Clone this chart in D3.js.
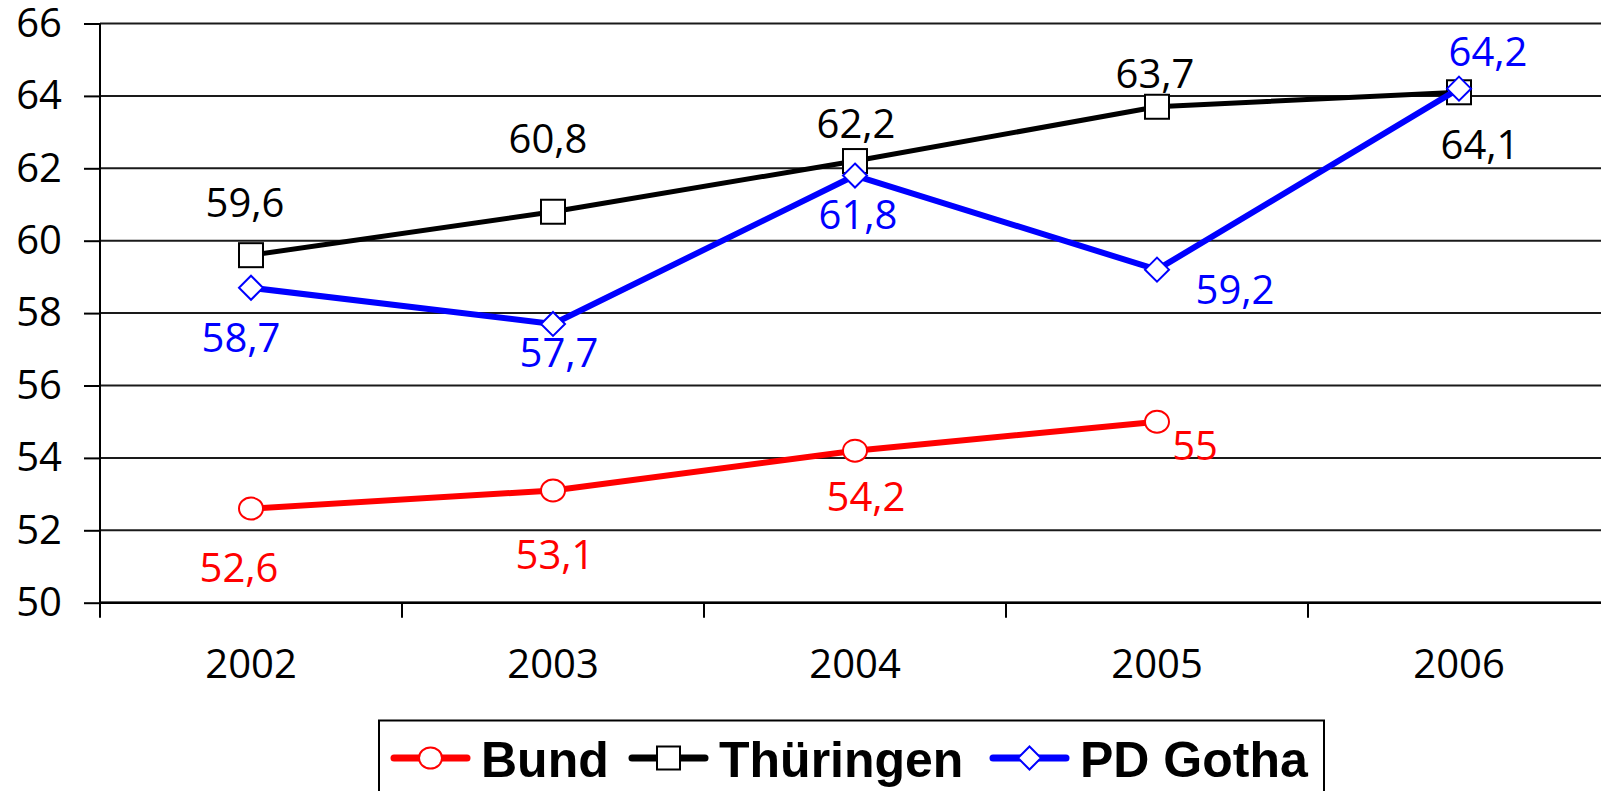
<!DOCTYPE html>
<meta charset="utf-8">
<title>Bund / Thüringen / PD Gotha</title>
<head>
    <script src="https://d3js.org/d3.v7.min.js"></script>
</head>
<body style="margin: 0px; background: #fff">
<script>

    var years = ["2002", "2003", "2004", "2005", "2006"];
    var yTicks = [50, 52, 54, 56, 58, 60, 62, 64, 66];
    var bund = [52.6, 53.1, 54.2, 55.0, null];
    var thueringen = [59.6, 60.8, 62.2, 63.7, 64.1];
    var pdGotha = [58.7, 57.7, 61.8, 59.2, 64.2];
    var seriesNames = ["Bund", "Thüringen", "PD Gotha"];

    // label offsets (px) from each point, as placed in the original
    var bundLabelOff = [[-12, 58], [2, 63], [11, 45], [38, 23]];
    var thuerLabelOff = [[-6, -54], [-5, -74], [1, -39], [-2, -34], [21, 51]];
    var gothaLabelOff = [[-10, 49], [6, 28], [3, 38], [78, 19], [29, -38]];

    var width = 1601, height = 791;
    var plotLeft = 100, plotTop = 23.5, plotBottom = 602.7, band = 302;

    var series = [
        {name: seriesNames[0], values: bund, color: "#ff0000", lw: 6, marker: "circle", off: bundLabelOff},
        {name: seriesNames[1], values: thueringen, color: "#000000", lw: 5, marker: "square", off: thuerLabelOff},
        {name: seriesNames[2], values: pdGotha, color: "#0000ff", lw: 6, marker: "diamond", off: gothaLabelOff}
    ];

    var svg = d3.select("body").append("svg")
            .attr("width", width)
            .attr("height", height)
            .style("display", "block");

    var x = d3.scaleBand().domain(years).range([plotLeft, plotLeft + band * years.length]);
    var y = d3.scaleLinear().domain([50, 66]).range([plotBottom, plotTop]);

    var numFont = "'Open Sans', sans-serif";
    var fmt = function (v) { return String(v).replace(".", ","); };

    // grid lines
    svg.append("g").selectAll("line").data(yTicks).enter().append("line")
            .attr("x1", plotLeft).attr("x2", width)
            .attr("y1", function (d) { return y(d); })
            .attr("y2", function (d) { return y(d); })
            .attr("stroke", "#1a1a1a").attr("stroke-width", 2);

    // y axis
    var yAxis = svg.append("g").attr("transform", "translate(" + plotLeft + ",0)")
            .call(d3.axisLeft(y).tickValues(yTicks).tickSize(16).tickPadding(22).tickFormat(d3.format("d")));
    yAxis.select(".domain").remove();
    yAxis.selectAll(".tick line").attr("stroke", "#000").attr("stroke-width", 2);
    yAxis.selectAll(".tick text").attr("fill", "#000").style("font-family", numFont).style("font-size", "40px");
    svg.append("line").attr("x1", plotLeft).attr("x2", plotLeft).attr("y1", plotTop).attr("y2", plotBottom + 15)
            .attr("stroke", "#000").attr("stroke-width", 2);

    // x axis
    var xAxis = svg.append("g").attr("transform", "translate(0," + plotBottom + ")")
            .call(d3.axisBottom(x).tickSize(0).tickPadding(47));
    xAxis.select(".domain").remove();
    xAxis.selectAll(".tick text").attr("fill", "#000").style("font-family", numFont).style("font-size", "40px");
    svg.append("g").selectAll("line").data(years).enter().append("line")
            .attr("x1", function (d) { return x(d) + band; })
            .attr("x2", function (d) { return x(d) + band; })
            .attr("y1", plotBottom).attr("y2", plotBottom + 15)
            .attr("stroke", "#000").attr("stroke-width", 2);
    svg.append("line").attr("x1", plotLeft).attr("x2", width).attr("y1", plotBottom).attr("y2", plotBottom)
            .attr("stroke", "#000").attr("stroke-width", 2.5);

    function cx(i) { return x(years[i]) + band / 2; }

    function drawMarker(g, type, px, py, color, s) {
        if (type === "circle") {
            g.append("ellipse").attr("cx", px).attr("cy", py).attr("rx", s / 2).attr("ry", s / 2 - 1)
                    .attr("fill", "#fff").attr("stroke", color).attr("stroke-width", 2);
        } else if (type === "square") {
            g.append("rect").attr("x", px - s / 2).attr("y", py - s / 2).attr("width", s).attr("height", s)
                    .attr("fill", "#fff").attr("stroke", color).attr("stroke-width", 2);
        } else {
            g.append("path").attr("d", "M" + px + "," + (py - s / 2) + "L" + (px + s / 2) + "," + py +
                    "L" + px + "," + (py + s / 2) + "L" + (px - s / 2) + "," + py + "Z")
                    .attr("fill", "#fff").attr("stroke", color).attr("stroke-width", 2);
        }
    }

    series.forEach(function (s) {
        var pts = [];
        s.values.forEach(function (v, i) { if (v !== null) pts.push([cx(i), y(v), v, i]); });
        svg.append("path").datum(pts)
                .attr("d", d3.line().x(function (d) { return d[0]; }).y(function (d) { return d[1]; }))
                .attr("fill", "none").attr("stroke", s.color).attr("stroke-width", s.lw)
                .attr("stroke-linejoin", "round");
        var g = svg.append("g");
        pts.forEach(function (p) { drawMarker(g, s.marker, p[0], p[1], s.color, 24); });
        s.pts = pts;
    });

    series.forEach(function (s) {
        svg.append("g").selectAll("text").data(s.pts).enter().append("text")
                .attr("x", function (d) { return d[0] + s.off[d[3]][0]; })
                .attr("y", function (d) { return d[1] + s.off[d[3]][1]; })
                .attr("text-anchor", "middle").attr("dominant-baseline", "central")
                .attr("fill", s.color)
                .style("font-family", numFont).style("font-size", "40px")
                .text(function (d) { return fmt(d[2]); });
    });

    // legend
    var leg = svg.append("g");
    leg.append("rect").attr("x", 379).attr("y", 720.5).attr("width", 945).attr("height", 100)
            .attr("fill", "#fff").attr("stroke", "#000").attr("stroke-width", 2);
    var legX = [394, 632, 993];
    series.forEach(function (s, i) {
        var lx = legX[i], ly = 758;
        leg.append("line").attr("x1", lx).attr("x2", lx + 73).attr("y1", ly).attr("y2", ly)
                .attr("stroke", s.color).attr("stroke-width", 7).attr("stroke-linecap", "round");
        drawMarker(leg, s.marker, lx + 36.5, ly, s.color, 23);
        leg.append("text").attr("x", lx + 87).attr("y", ly + 19)
                .attr("fill", "#000")
                .style("font-family", "'Liberation Sans', Arial, sans-serif")
                .style("font-weight", "bold").style("font-size", "50px")
                .text(s.name);
    });

</script>
</body>
